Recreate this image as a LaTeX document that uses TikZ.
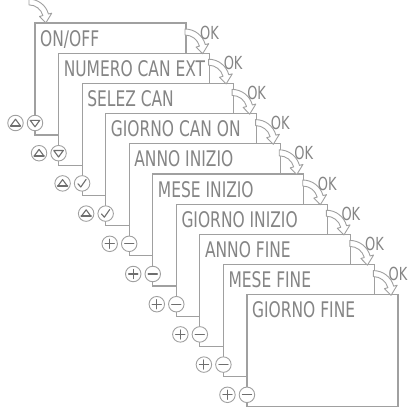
\documentclass[tikz,border=0pt]{standalone}
\usepackage{fontspec}
\newfontfamily\lcdfont{DejaVu Sans}[FakeStretch=0.72]
\definecolor{linegray}{HTML}{A0A0A0}
\definecolor{lcdgray}{HTML}{858585}
\definecolor{symgray}{HTML}{6E6E6E}

% symbols inside the round keys
\newcommand\btnup{\draw[symb] (-4.8,2.7) -- (0,-3.8) -- (4.8,2.7) -- cycle;
  \draw[symb, line width=1.8pt] (-4.8,2.7) -- (4.8,2.7);}
\newcommand\btndown{\draw[symb] (-4.8,-2.7) -- (0,3.8) -- (4.8,-2.7) -- cycle;}
\newcommand\btncheck{\draw[symb] (-4.2,0.3) -- (-1.3,3.6) -- (4,-4);}
\newcommand\btnplus{\draw[symb] (-4.6,0) -- (4.6,0) (0,-4.6) -- (0,4.6);}
\newcommand\btnminus{\draw[symb] (-4.6,0) -- (4.6,0);}

\tikzset{
  cardline/.style={draw=linegray, line width=1.1pt, fill=white},
  lcd/.style={font=\lcdfont\fontsize{21.5}{25}\selectfont, text=lcdgray, inner sep=0pt, anchor=base west},
  oktext/.style={font=\lcdfont\fontsize{18}{21}\selectfont, text=lcdgray, inner sep=0pt, anchor=base west},
  btn/.style={circle, draw=linegray, line width=0.9pt, fill=white, minimum size=15.5pt, inner sep=0pt},
  symb/.style={draw=symgray, line width=1.1pt, line join=round, line cap=round},
  okarrow/.pic={
    \draw[draw=linegray, line width=0.9pt, fill=white, line join=round]
      (0,-2.5) .. controls (7.92,-2.5) and (14.85,2.82) .. (16.9,10.47)
      -- (19.8,9.69) -- (14.67,18.12) -- (9.18,12.54) -- (12.07,11.76)
      .. controls (10.6,6.29) and (5.66,2.5) .. (0,2.5) -- cycle;
  }
}

\begin{document}
\begin{tikzpicture}[x=1pt, y=-1pt]
  \useasboundingbox (0,0) rectangle (408,408);

  % the stacked menu cards
  \foreach \k/\txt in {1/{ON/OFF}, 2/{NUMERO CAN EXT}, 3/{SELEZ CAN},
      4/{GIORNO CAN ON}, 5/{ANNO INIZIO}, 6/{MESE INIZIO},
      7/{GIORNO INIZIO}, 8/{ANNO FINE}, 9/{MESE FINE}, 10/{GIORNO FINE}} {
    \pgfmathsetmacro\xl{35+23.55*(\k-1)}
    \pgfmathsetmacro\yt{23+30.2*(\k-1)}
    \pgfmathsetmacro\xr{\xl+151}
    \draw[cardline] (\xl,\yt) rectangle (\xr,\yt+112);
    \node[lcd] (label\k) at (\xl+5,\yt+23) {\txt};
  }

  % OK arrows from one card to the next
  \foreach \k in {1,...,9} {
    \pgfmathsetmacro\xr{186+23.55*(\k-1)}
    \pgfmathsetmacro\yt{23+30.2*(\k-1)}
    \pic[scale=1.2] at (\xr-1,\yt+9) {okarrow};
    \node[oktext] (ok\k) at (\xr+14,\yt+16) {OK};
  }
  \pic[scale=1.15] at (29,2) {okarrow};

  % keys on the left edges
  \foreach \k/\la/\lb in {1/up/down, 2/up/down, 3/up/check, 4/up/check,
      5/plus/minus, 6/plus/minus, 7/plus/minus, 8/plus/minus,
      9/plus/minus, 10/plus/minus} {
    \pgfmathsetmacro\xl{35+23.55*(\k-1)}
    \pgfmathsetmacro\yt{23+30.2*(\k-1)}
    \node[btn] (kl\k) at (\xl-19.5,\yt+100) {};
    \node[btn] (kr\k) at (\xl,\yt+100) {};
    \begin{scope}[shift={(kl\k.center)}] \csname btn\la\endcsname \end{scope}
    \begin{scope}[shift={(kr\k.center)}] \csname btn\lb\endcsname \end{scope}
  }
\end{tikzpicture}
\end{document}
